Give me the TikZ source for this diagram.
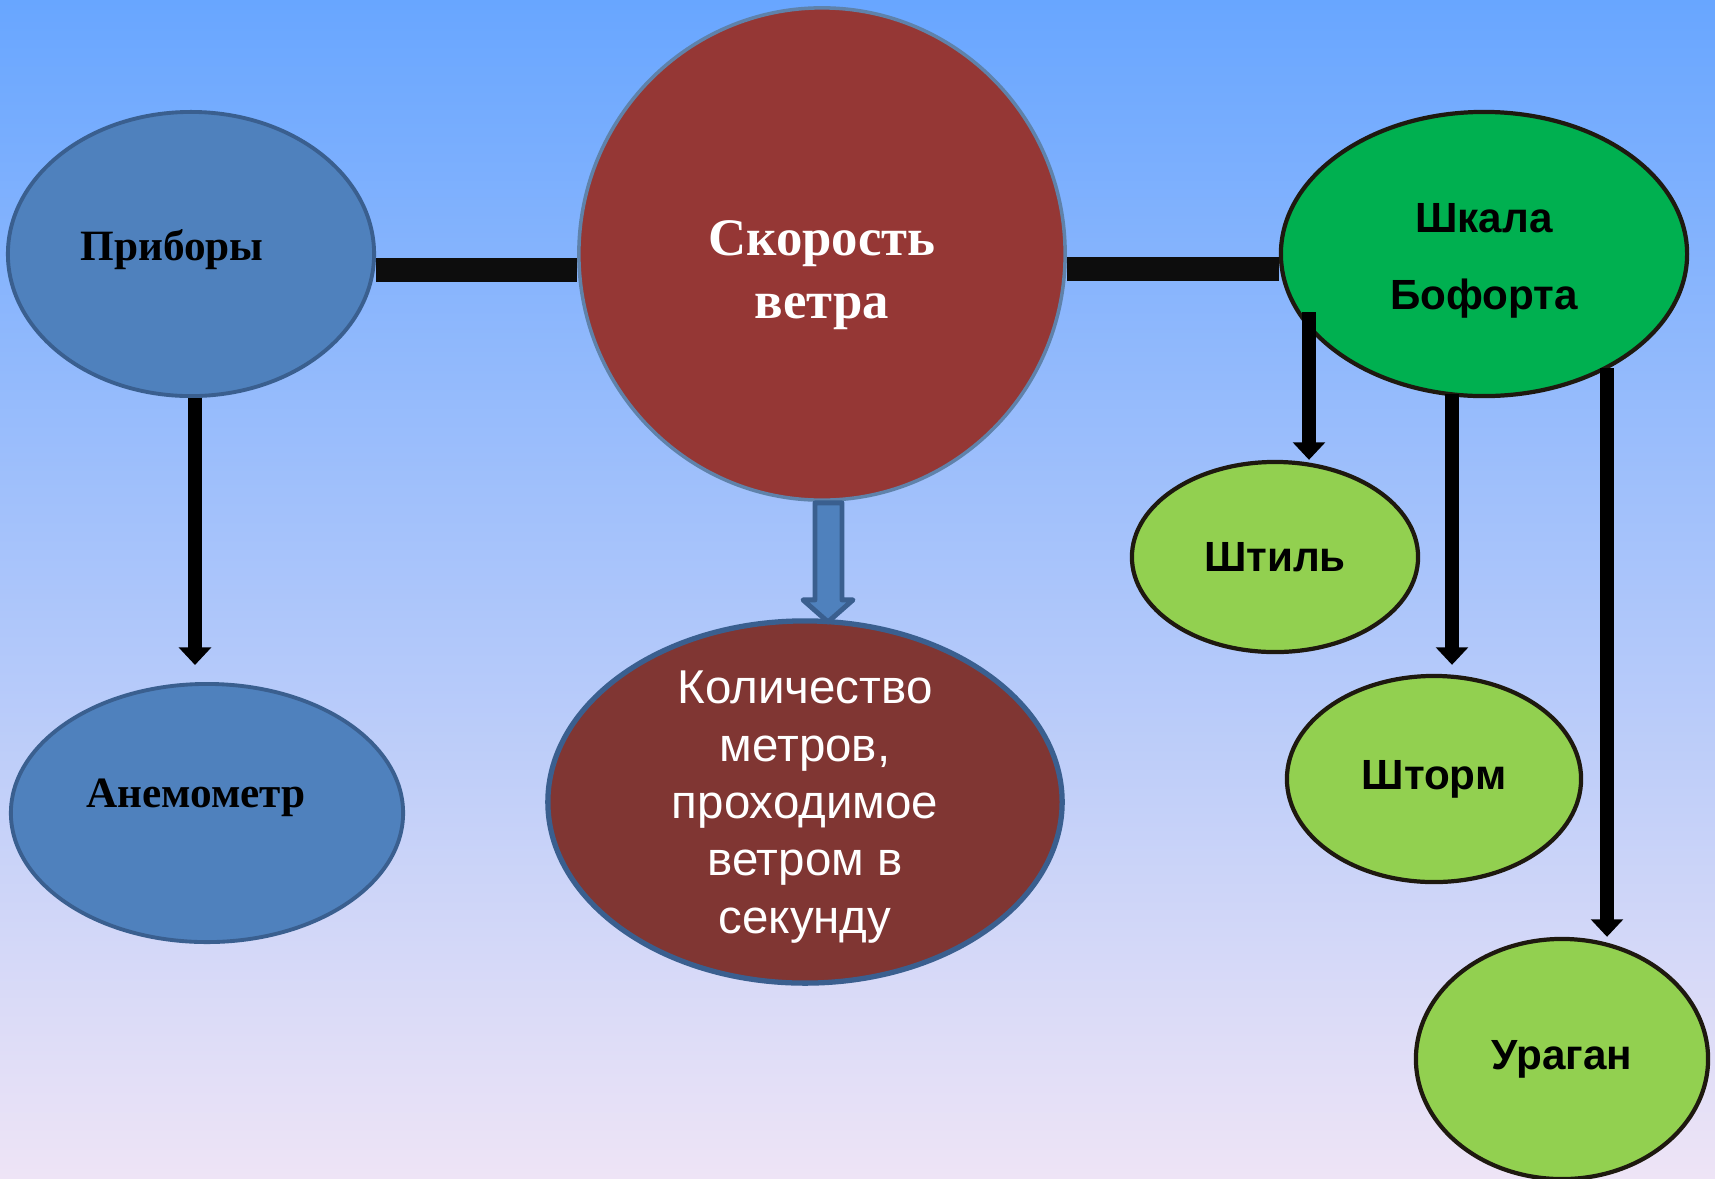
\documentclass[tikz,border=0pt]{standalone}
\usepackage{fontspec}
\setmainfont{Liberation Serif}
\newfontfamily\arialfont{Liberation Sans}
\usetikzlibrary{shapes.geometric, arrows.meta}
\definecolor{bgtop}{RGB}{104,166,255}
\definecolor{bgmid}{RGB}{148,200,249}
\definecolor{bgbot}{RGB}{238,228,246}
\definecolor{pribfill}{RGB}{79,129,189}
\definecolor{pribline}{RGB}{58,95,143}
\definecolor{skorfill}{RGB}{149,55,53}
\definecolor{skorline}{RGB}{95,130,170}
\definecolor{kolfill}{RGB}{128,54,51}
\definecolor{darkgreen}{RGB}{0,176,80}
\definecolor{lightgreen}{RGB}{146,208,80}
\definecolor{ovalline}{RGB}{30,25,15}
\definecolor{barcol}{RGB}{13,13,13}
\begin{document}
\begin{tikzpicture}[x=0.01cm, y=-0.01cm,
    oval/.style={ellipse, inner sep=0pt, align=center},
    bluestyle/.style={oval, fill=pribfill, draw=pribline, line width=1.1pt},
    serifbold/.style={font=\bfseries\fontsize{12.3}{15}\selectfont},
    greenstyle/.style={oval, draw=ovalline, line width=1.2pt,
        font=\arialfont\bfseries\fontsize{12}{22}\selectfont},
    bar/.style={draw=barcol, line width=6.8pt},
    arr/.style={draw=black, line width=4.2pt, -{Triangle[width=9pt,length=5pt]}},
    hollowarrow/.style={fill=pribfill, draw=pribline, line width=1.4pt, line join=round}]

    \useasboundingbox (0,0) rectangle (1715,1178);
    \shade[top color=bgtop, middle color=bgmid, bottom color=bgbot] (0,0) rectangle (1715,1178);

    % left branch
    \node[bluestyle, minimum width=3.66cm, minimum height=2.84cm,
        label={[serifbold, xshift=-0.19cm, yshift=0.04cm]center:Приборы}] (prib) at (191,254) {};
    \node[bluestyle, minimum width=3.92cm, minimum height=2.58cm,
        label={[serifbold, xshift=-0.11cm, yshift=0.15cm]center:Анемометр}] (anem) at (207,813) {};

    % centre
    \node[oval, fill=skorfill, draw=skorline, line width=1pt, minimum width=4.86cm, minimum height=4.92cm,
        label={[align=center, text=white, yshift=-0.21cm, font=\bfseries\fontsize{15}{18}\selectfont]center:Скорость\\ветра}] (skor) at (822,254) {};
    \node[oval, fill=kolfill, draw=pribline, line width=1.5pt, minimum width=5.14cm, minimum height=3.62cm,
        label={[align=center, text=white, yshift=-0.05cm, font=\arialfont\fontsize{13.5}{16.3}\selectfont]center:Количество\\метров,\\проходимое\\ветром в\\секунду}] (kol) at (805,802) {};

    % right branch
    \node[greenstyle, fill=darkgreen, minimum width=4.06cm, minimum height=2.84cm,
        label={[align=center, yshift=-0.07cm, font=\arialfont\bfseries\fontsize{12}{22}\selectfont]center:Шкала\\Бофорта}] (shk) at (1484,254) {};
    \node[greenstyle, fill=lightgreen, minimum width=2.86cm, minimum height=1.90cm] (shtil) at (1275,557) {Штиль};
    \node[greenstyle, fill=lightgreen, minimum width=2.94cm, minimum height=2.06cm] (shtorm) at (1434,779) {Шторм};
    \node[greenstyle, fill=lightgreen, minimum width=2.92cm, minimum height=2.40cm] (uragan) at (1562,1059) {Ураган};

    % connectors
    \draw[bar] ([yshift=-0.16cm]prib.east) -- ([yshift=-0.16cm]skor.west);
    \draw[bar] ([yshift=-0.15cm]skor.east) -- ([yshift=-0.15cm]shk.west);

    \draw[arr, shorten >=0.17cm] ([xshift=0.04cm]prib.south) -- ([xshift=0.04cm]prib.south |- anem.north);

    \coordinate (s1) at (1309,312);
    \coordinate (s2) at (1452,394);
    \coordinate (s3) at (1607,368);
    \draw[arr] (s1) -- (s1 |- shtil.north);
    \draw[arr, shorten >=0.09cm] (s2) -- (s2 |- shtorm.north);
    \draw[arr] (s3) -- (s3 |- uragan.north);

    \draw[hollowarrow, shift={(skor.south)}] (-7,1) -- (20,1) -- (20,98) -- (31,98)
        -- (6,120) -- (-19,98) -- (-7,98) -- cycle;
\end{tikzpicture}
\end{document}
